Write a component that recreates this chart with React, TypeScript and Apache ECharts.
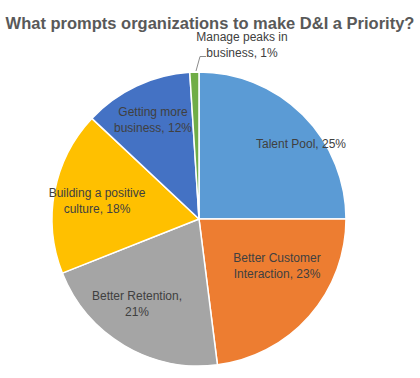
import React, { useEffect, useRef } from "react";
import * as echarts from "echarts";

const categories = [
  "Talent Pool",
  "Better Customer\nInteraction",
  "Better Retention",
  "Building a positive\nculture",
  "Getting more\nbusiness",
  "Manage peaks in\nbusiness",
];
const values = [25, 23, 21, 18, 12, 1];
const breakAfterComma = [false, false, true, false, false, false];
const colors = ["#5B9BD5", "#ED7D31", "#A5A5A5", "#FFC000", "#4472C4", "#70AD47"];
const labelCenters: [number, number][] = [
  [301, 144],
  [277, 266],
  [137, 304],
  [97, 201],
  [153, 120],
  [242, 45],
];

export default function App() {
  const ref = useRef<HTMLDivElement>(null);
  useEffect(() => {
    if (!ref.current) return;
    const chart = echarts.init(ref.current, null, { renderer: "svg" });
    chart.setOption({
      animation: false,
      title: {
        text: "What prompts organizations to make D&I a Priority?",
        left: "center",
        top: 9,
        textStyle: {
          fontFamily: "Liberation Sans",
          fontSize: 16.5,
          fontWeight: "bold",
          color: "#595959",
        },
      },
      graphic: [
        {
          type: "polyline",
          shape: { points: [[196, 71], [200, 56.5], [206, 56.5]] },
          style: { stroke: "#8c8c8c", lineWidth: 1, fill: "none" },
          silent: true,
        },
      ],
      series: [
        {
          type: "pie",
          center: [199, 219],
          radius: 147,
          startAngle: 90,
          clockwise: true,
          data: categories.map((c, i) => ({
            name: c,
            value: values[i],
            itemStyle: { color: colors[i] },
          })),
          itemStyle: { borderColor: "#ffffff", borderWidth: 1.5 },
          label: {
            show: true,
            position: "inside",
            formatter: (p: any) =>
              `${p.name},${breakAfterComma[p.dataIndex] ? "\n" : " "}${p.value}%`,
            fontFamily: "Liberation Sans",
            fontSize: 12,
            lineHeight: 16,
            color: "#404040",
            align: "center",
          },
          labelLine: { show: false },
          labelLayout: (p: any) => {
            const c = labelCenters[p.dataIndex];
            return { x: c[0], y: c[1], align: "center", verticalAlign: "middle" };
          },
          emphasis: { disabled: true },
        },
      ],
    });
    return () => chart.dispose();
  }, []);
  return (
    <div
      ref={ref}
      style={{ position: "fixed", left: 0, top: 0, width: 420, height: 378, background: "#fff" }}
    />
  );
}
